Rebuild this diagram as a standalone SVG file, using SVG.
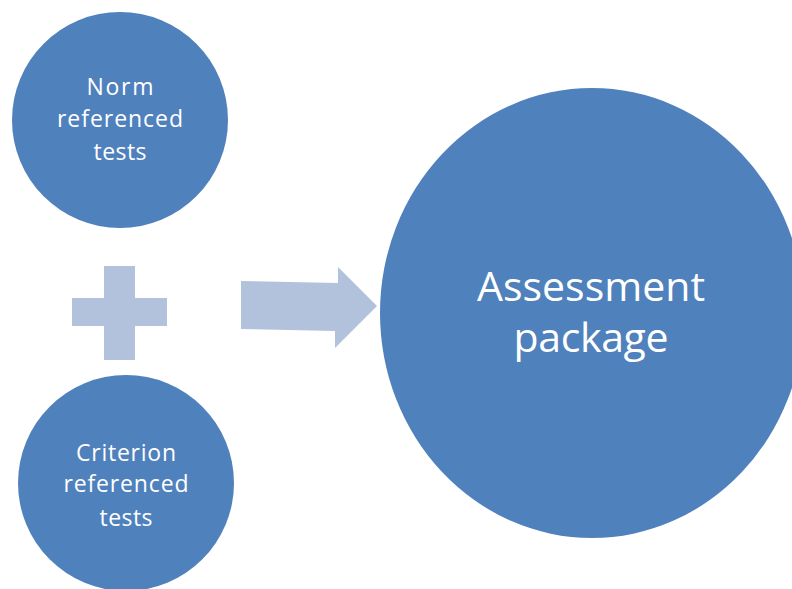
<svg xmlns="http://www.w3.org/2000/svg" width="792" height="589" viewBox="0 0 792 589">
  <style>
    .node { fill: #4F81BD; }
    .link { fill: #B3C2DC; }
    .label { fill: #FFFFFF; font-family: "Open Sans", "Liberation Sans", Arial, sans-serif; text-anchor: middle; }
    .small { font-size: 23px; }
    .large { font-size: 41px; }
  </style>
  <rect width="792" height="589" fill="#FFFFFF"/>

  <!-- plus sign and arrow joining the inputs to the result -->
  <g id="connectors">
    <path class="link" d="M104,266 H135 V298 H167 V326 H135 V360 H104 V326 H72 V298 H104 Z"/>
    <polygon class="link" points="241,281 338,283 338,267 377,306 335,348 335,331 241,329"/>
  </g>

  <g id="norm-referenced">
    <circle class="node" cx="120" cy="120" r="108"/>
    <text class="label small" x="120" y="95" textLength="67" lengthAdjust="spacing">Norm</text>
    <text class="label small" x="120" y="127" textLength="126" lengthAdjust="spacing">referenced</text>
    <text class="label small" x="120" y="160" textLength="53" lengthAdjust="spacing">tests</text>
  </g>

  <g id="criterion-referenced">
    <circle class="node" cx="126" cy="483" r="108"/>
    <text class="label small" x="126" y="461" textLength="100" lengthAdjust="spacing">Criterion</text>
    <text class="label small" x="126" y="492" textLength="125" lengthAdjust="spacing">referenced</text>
    <text class="label small" x="126" y="526" textLength="53" lengthAdjust="spacing">tests</text>
  </g>

  <g id="assessment-package">
    <ellipse class="node" cx="592" cy="313" rx="212" ry="225"/>
    <text class="label large" x="591" y="301" textLength="228" lengthAdjust="spacing">Assessment</text>
    <text class="label large" x="591" y="352" textLength="155" lengthAdjust="spacing">package</text>
  </g>
</svg>
